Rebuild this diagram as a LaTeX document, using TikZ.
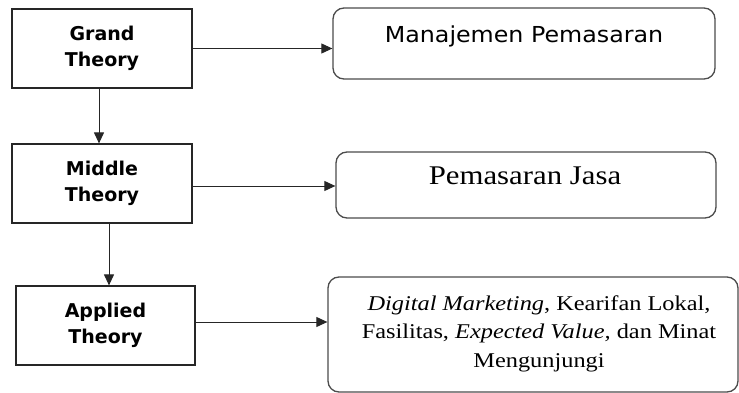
\documentclass[tikz,border=0pt]{standalone}
\usepackage{fontspec}
\usepackage{graphicx}
\setmainfont{Liberation Serif}
\newfontfamily\boxsans{DejaVu Sans}
\usetikzlibrary{arrows.meta}
\begin{document}
\begin{tikzpicture}[x=1pt,y=-1pt,
  leftbox/.style={draw=black!85, line width=1.2pt, minimum width=180pt, minimum height=79pt, inner sep=0pt, align=center, font=\boxsans\bfseries\fontsize{19}{26.5}\selectfont},
  rightbox/.style={draw=black!70, line width=1.3pt, rounded corners=11pt, inner sep=0pt},
  arr/.style={-{Triangle[length=11pt,width=10pt]}, line width=1pt, draw=black!85},
]
\useasboundingbox (0,0) rectangle (739,393);
\node[leftbox] (grand) at (102,48.5) {Grand\\Theory};
\node[leftbox] (middle) at (102,183.5) {Middle\\Theory};
\node[leftbox, minimum width=179pt] (applied) at (105.5,325.5) {Applied\\Theory};

\node[rightbox, minimum width=382pt, minimum height=71pt] (man) at (524,43.5) {};
\node[rightbox, minimum width=380pt, minimum height=66pt] (jasa) at (526,185) {};
\node[rightbox, minimum width=410pt, minimum height=115pt] (dig) at (533,334.5) {};

\node[anchor=base, inner sep=0pt, font=\boxsans\fontsize{22}{26}\selectfont] (mantext) at (524,43) {\scalebox{1.08}[1]{Manajemen Pemasaran}};
\node[anchor=base, inner sep=0pt, font=\fontsize{27}{30}\selectfont] (jasatext) at (525,185) {\scalebox{1.14}[1]{Pemasaran Jasa}};
\node[inner sep=0pt, font=\fontsize{21}{28.5}\selectfont] (digtext) at (539,333) {\scalebox{1.16}[1]{\begin{tabular}{@{}c@{}}\textit{Digital Marketing}, Kearifan Lokal,\\ Fasilitas, \textit{Expected Value,} dan Minat\\ Mengunjungi\end{tabular}}};

\draw[arr] (grand.east) -- (grand.east -| man.west);
\draw[arr] ([yshift=-2.5pt]middle.east) -- ([yshift=-2.5pt]middle.east -| jasa.west);
\draw[arr] ([yshift=3.5pt]applied.east) -- ([yshift=3.5pt]applied.east -| dig.west);
\draw[arr] ([xshift=-3pt]grand.south) -- ([xshift=-3pt]grand.south |- middle.north);
\draw[arr] ([xshift=7pt]middle.south) -- ([xshift=7pt]middle.south |- applied.north);
\end{tikzpicture}
\end{document}
